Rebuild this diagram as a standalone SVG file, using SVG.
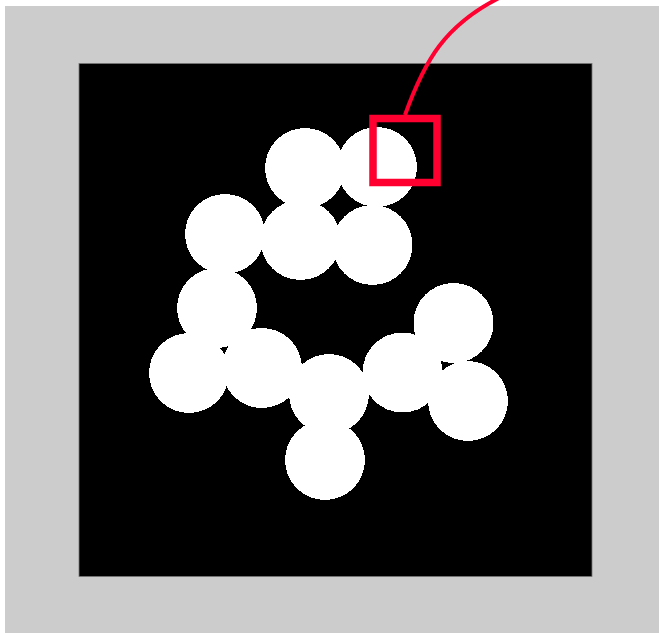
<svg xmlns="http://www.w3.org/2000/svg" width="659" height="633" viewBox="0 0 659 633">
<style>
.blob{fill:#ffffff;shape-rendering:crispEdges}
.sel{fill:none;stroke:#ff0030;stroke-width:7.5}
.lead{fill:none;stroke:#ff0030;stroke-width:4}
</style>
<rect x="0" y="0" width="659" height="633" fill="#ffffff"/>
<rect x="5" y="6" width="654" height="627" fill="#cccccc"/>
<rect x="79" y="63.5" width="513" height="513" fill="#000000" stroke="#777777" stroke-width="0.8"/>
<g id="blobs">
<circle id="c1" class="blob" cx="305" cy="168" r="40"/>
<circle id="c2" class="blob" cx="377" cy="167" r="40"/>
<circle id="c3" class="blob" cx="225" cy="234" r="40"/>
<circle id="c4" class="blob" cx="300.5" cy="240" r="40"/>
<circle id="c5" class="blob" cx="372.5" cy="245" r="40"/>
<circle id="c6" class="blob" cx="217" cy="308" r="40"/>
<circle id="c7" class="blob" cx="189" cy="373" r="40"/>
<circle id="c8" class="blob" cx="262" cy="368" r="40"/>
<circle id="c9" class="blob" cx="329" cy="394" r="40"/>
<circle id="c10" class="blob" cx="325" cy="460" r="40"/>
<circle id="c11" class="blob" cx="402.5" cy="372.5" r="40"/>
<circle id="c12" class="blob" cx="453.5" cy="323" r="40"/>
<circle id="c13" class="blob" cx="468" cy="401" r="40"/>
</g>
<g id="marker">
<rect class="sel" x="373" y="118.5" width="64" height="64"/>
</g>
<g id="connectors">
<path class="lead" d="M 405 115 C 424 62, 444 24, 505 -5"/>
</g>
</svg>
